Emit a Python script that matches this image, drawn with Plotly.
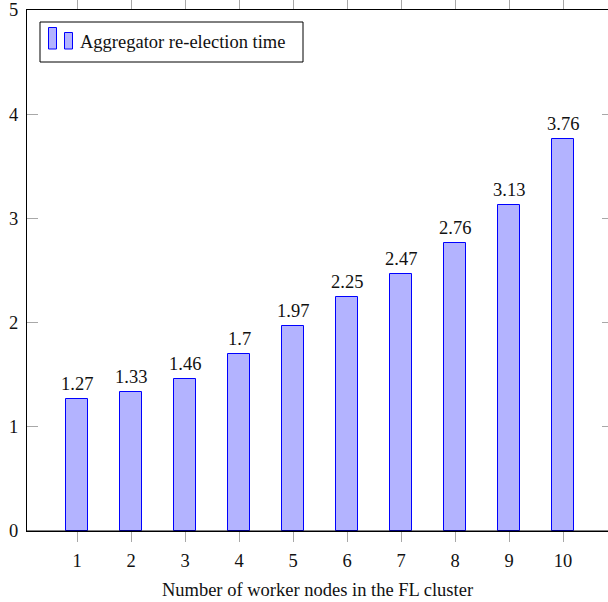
import plotly.graph_objects as go

nodes = [1, 2, 3, 4, 5, 6, 7, 8, 9, 10]
reelection_time = [1.27, 1.33, 1.46, 1.7, 1.97, 2.25, 2.47, 2.76, 3.13, 3.76]
y_ticks = [0, 1, 2, 3, 4, 5]
series_name = "Aggregator re-election time"
x_title = "Number of worker nodes in the FL cluster"

W, H = 608, 602
L, R, T, B = 27, 0, 10, 71
PW, PH = W - L - R, H - T - B
FONT = "'Liberation Serif', 'Times New Roman', 'DejaVu Serif', serif"
FS = 18.5
FILL = "#b3b3ff"
EDGE = "#0000ff"
TICK = "#a8a8a8"


def px(x):
    return (x - L) / PW


def py(y):
    return (H - B - y) / PH


fig = go.Figure()
fig.add_trace(go.Bar(
    x=nodes, y=reelection_time, width=0.415,
    marker=dict(color=FILL, line=dict(color=EDGE, width=1)),
    name=series_name, showlegend=False, hoverinfo="x+y",
))
fig.add_trace(go.Scatter(x=[], y=[], yaxis="y2", showlegend=False))

for n, v in zip(nodes, reelection_time):
    fig.add_annotation(x=n, y=v, text=f"{v:g}", showarrow=False,
                       yanchor="bottom", yshift=3,
                       font=dict(family=FONT, size=FS, color="#111"))

# manual legend (pgfplots style)
shapes = [
    dict(type="rect", xref="paper", yref="paper", x0=px(40), x1=px(303), y0=py(62), y1=py(22),
         line=dict(color="black", width=1), fillcolor="white", layer="above"),
    dict(type="rect", xref="paper", yref="paper", x0=px(48.5), x1=px(56.5), y0=py(49), y1=py(27.5),
         line=dict(color=EDGE, width=1), fillcolor=FILL, layer="above"),
    dict(type="rect", xref="paper", yref="paper", x0=px(64.5), x1=px(72.5), y0=py(49), y1=py(32.5),
         line=dict(color=EDGE, width=1), fillcolor=FILL, layer="above"),
    dict(type="line", xref="paper", yref="paper", x0=0, x1=1, y0=0, y1=0,
         line=dict(color="black", width=1), layer="above"),
]
fig.add_annotation(xref="paper", yref="paper", x=px(78), y=py(42), text=series_name,
                   showarrow=False, xanchor="left", yanchor="middle",
                   font=dict(family=FONT, size=FS, color="#111"))

fig.update_layout(
    width=W, height=H,
    margin=dict(l=L, r=R, t=T, b=B, pad=0),
    plot_bgcolor="white", paper_bgcolor="white",
    font=dict(family=FONT, size=FS, color="#111"),
    shapes=shapes,
    bargap=0,
    xaxis=dict(
        range=[0.074, 10.833], tickmode="array", tickvals=nodes, ticktext=[str(n) for n in nodes],
        showline=True, linecolor="black", linewidth=1, mirror="ticks",
        ticks="outside", ticklen=10, tickcolor=TICK, tickwidth=1,
        showgrid=False, zeroline=False, ticklabelstandoff=3, layer="above traces",
        title=dict(text=x_title, standoff=12, font=dict(family=FONT, size=FS)),
    ),
    yaxis=dict(
        range=[0, 5], tickmode="array", tickvals=y_ticks,
        showline=True, linecolor="black", linewidth=1, mirror=False,
        ticks="inside", ticklen=11, tickcolor=TICK, tickwidth=1,
        showgrid=False, zeroline=False, ticklabelstandoff=4,
    ),
    yaxis2=dict(
        range=[0, 5], tickmode="array", tickvals=y_ticks, overlaying="y", side="right",
        showline=False, ticks="inside", ticklen=6, tickcolor=TICK, tickwidth=1,
        showticklabels=False, showgrid=False, zeroline=False,
    ),
)

fig.write_html("out.html", config={"displayModeBar": False},
               post_script="document.body.style.margin='0';document.body.style.overflow='hidden';")
